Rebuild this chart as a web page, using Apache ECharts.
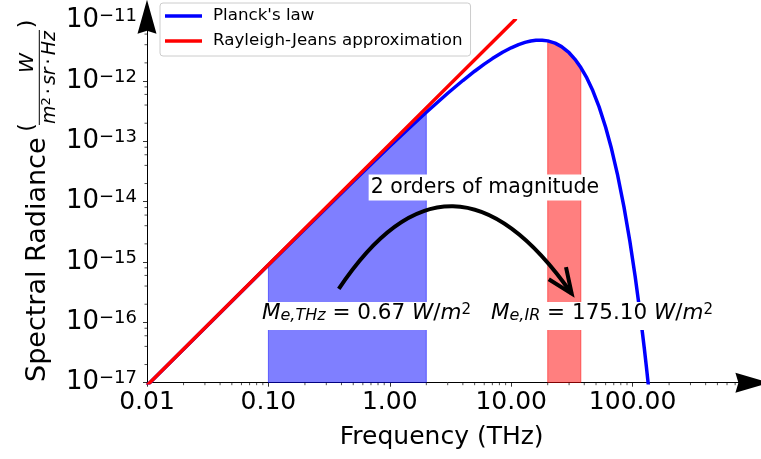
<!DOCTYPE html>
<html>
<head>
<meta charset="utf-8">
<script src="https://cdn.jsdelivr.net/npm/echarts@6/dist/echarts.min.js"></script>
<style>
  html, body { margin: 0; padding: 0; background: #ffffff; }
  #chart { width: 761px; height: 459px; }
</style>
</head>
<body>
<div id="chart"></div>
<script>
const FONT = 'DejaVu Sans';

// Black-body spectral radiance (W / (m²·sr·Hz)) against frequency (THz)
const FREQ_THZ = [0.01, 0.02, 0.05, 0.1, 0.2, 0.5, 1, 1.5, 2, 3,
  4, 5, 6, 7, 8.5, 10, 11.5, 13, 14.5, 16,
  18, 20, 23, 26, 30, 34, 37.5, 42, 47, 53,
  60, 67, 75, 85, 95, 105, 115, 125, 130, 135];
const PLANCK_RADIANCE = [8.995e-18, 3.595e-17, 2.241e-16, 8.928e-16, 3.542e-15, 2.160e-14, 8.285e-14, 1.787e-13, 3.043e-13, 6.274e-13,
  1.020e-12, 1.453e-12, 1.905e-12, 2.355e-12, 2.994e-12, 3.558e-12, 4.021e-12, 4.372e-12, 4.610e-12, 4.738e-12,
  4.758e-12, 4.632e-12, 4.245e-12, 3.717e-12, 2.945e-12, 2.219e-12, 1.675e-12, 1.125e-12, 6.946e-13, 3.727e-13,
  1.718e-13, 7.599e-14, 2.875e-14, 8.134e-15, 2.207e-15, 5.793e-16, 1.479e-16, 3.693e-17, 1.831e-17, 9.042e-18];

// Rayleigh-Jeans approximation (straight line on log-log axes)
const RJ_FREQ_THZ = [0.01, 0.1, 1, 10, 11];
const RJ_RADIANCE = [9.002e-18, 9.002e-16, 9.002e-14, 9.002e-12, 1.089e-11];

// integration bands (THz)
const THZ_BAND = [0.1, 2];
const IR_BAND = [20, 37.5];

// axis ranges and minor-tick multiples
const X_RANGE = [0.01, 900];
const Y_RANGE = [1e-17, 1e-11];
const X_MINOR_SUBS = [2, 3, 4, 5, 6, 7, 8, 9];
const Y_MINOR_SUBS = [2, 4, 6, 8];

const PLANCK_NAME = "Planck's law";
const RJ_NAME = 'Rayleigh-Jeans approximation';
const X_TITLE = 'Frequency (THz)';
const Y_TITLE = 'Spectral Radiance';
const NOTE_TEXT = '2 orders of magnitude';
const THZ_VALUE = '0.67';
const IR_VALUE = '175.10';

// annotation anchors in data units [THz, radiance]
const NOTE_AT = [6.08, 1.72e-14];
const THZ_LABEL_AT = [0.643, 1.28e-16];
const IR_LABEL_AT = [56, 1.28e-16];
const ARROW_FROM = [0.38, 3.6e-16];
const ARROW_TO = [31.5, 3.0e-16];
const ARROW_RAD = 0.73;

const chart = echarts.init(document.getElementById('chart'), null, { renderer: 'canvas' });

function bandPoints(band) {
  const pts = [];
  FREQ_THZ.forEach((f, i) => {
    if (f >= band[0] && f <= band[1]) pts.push([f, PLANCK_RADIANCE[i]]);
  });
  return pts;
}

function bandSeries(band, color) {
  const pts = bandPoints(band);
  return {
    type: 'custom', silent: true, z: 1, clip: true,
    data: [pts[0]],
    renderItem: (params, api) => {
      const poly = pts.map(p => api.coord(p));
      poly.push(api.coord([band[1], Y_RANGE[0]]), api.coord([band[0], Y_RANGE[0]]));
      return { type: 'polygon', shape: { points: poly }, style: { fill: color, stroke: color, lineWidth: 1 } };
    }
  };
}

const xMinor = [];
for (let e = Math.round(Math.log10(X_RANGE[0])); e < Math.log10(X_RANGE[1]); e++) {
  X_MINOR_SUBS.forEach(s => {
    const v = s * Math.pow(10, e);
    if (v > X_RANGE[0] && v <= X_RANGE[1]) xMinor.push([v, Y_RANGE[0]]);
  });
}
const yMinor = [];
for (let e = Math.round(Math.log10(Y_RANGE[0])); e < Math.round(Math.log10(Y_RANGE[1])); e++) {
  Y_MINOR_SUBS.forEach(s => yMinor.push([X_RANGE[0], s * Math.pow(10, e)]));
}

function tickSeries(data, horizontal) {
  return {
    type: 'custom', silent: true, clip: false, z: 5,
    data: data,
    renderItem: (params, api) => {
      const c = api.coord([api.value(0), api.value(1)]);
      const shape = horizontal
        ? { x1: c[0], y1: c[1], x2: c[0] - 2.5, y2: c[1] }
        : { x1: c[0], y1: c[1], x2: c[0], y2: c[1] + 2.5 };
      return { type: 'line', shape: shape, style: { stroke: '#000', lineWidth: 0.7 } };
    }
  };
}

const LEGEND_ICON = 'rect';

const option = {
  animation: false,
  backgroundColor: '#ffffff',
  grid: { left: 147, right: 12.6, top: 20.7, bottom: 76.3, containLabel: false, outerBoundsMode: 'none' },
  legend: {
    data: [{ name: PLANCK_NAME, icon: LEGEND_ICON }, { name: RJ_NAME, icon: LEGEND_ICON }],
    selectedMode: false,
    orient: 'vertical',
    left: 160, top: 3,
    padding: [3, 8, 5, 5],
    itemGap: 5, itemWidth: 37, itemHeight: 3.5,
    backgroundColor: 'rgba(255,255,255,0.8)',
    borderColor: '#cccccc', borderWidth: 1, borderRadius: 3,
    textStyle: { fontFamily: FONT, fontSize: 16.7, lineHeight: 20, color: '#000', padding: [0, 0, 0, 6] }
  },
  xAxis: {
    type: 'log', logBase: 10, min: X_RANGE[0], max: X_RANGE[1], splitNumber: 5,
    name: X_TITLE, nameLocation: 'middle', nameGap: 42,
    nameTextStyle: { fontFamily: FONT, fontSize: 25, color: '#000', padding: [0, 12, 0, 0] },
    axisLine: { show: true, onZero: false, lineStyle: { color: '#000', width: 1 } },
    axisTick: { show: true, inside: false, length: 4, lineStyle: { color: '#000', width: 0.8 } },
    axisLabel: {
      show: true, margin: 7, fontFamily: FONT, fontSize: 25, color: '#000',
      showMaxLabel: false, hideOverlap: false,
      formatter: v => Number(v).toFixed(2)
    },
    splitLine: { show: false }
  },
  yAxis: {
    type: 'log', logBase: 10, min: Y_RANGE[0], max: Y_RANGE[1], splitNumber: 6,
    axisLine: { show: true, onZero: false, lineStyle: { color: '#000', width: 1 } },
    axisTick: { show: true, inside: false, length: 4, lineStyle: { color: '#000', width: 0.8 } },
    axisLabel: {
      show: true, margin: 10, hideOverlap: false,
      formatter: v => '{b|10}{s|\u2212' + (-Math.round(Math.log10(v))) + '}',
      rich: {
        b: { fontFamily: FONT, fontSize: 26, lineHeight: 26, color: '#000', verticalAlign: 'middle' },
        s: { fontFamily: FONT, fontSize: 18, lineHeight: 11, color: '#000', verticalAlign: 'top' }
      }
    },
    splitLine: { show: false }
  },
  series: [
    bandSeries(THZ_BAND, 'rgba(0,0,255,0.5)'),
    bandSeries(IR_BAND, 'rgba(255,0,0,0.5)'),
    {
      name: PLANCK_NAME, type: 'line', z: 3,
      data: FREQ_THZ.map((f, i) => [f, PLANCK_RADIANCE[i]]),
      showSymbol: false, symbol: 'none', smooth: false, clip: true,
      lineStyle: { color: '#0000ff', width: 3.5 }, itemStyle: { color: '#0000ff' }
    },
    {
      name: RJ_NAME, type: 'line', z: 4,
      data: RJ_FREQ_THZ.map((f, i) => [f, RJ_RADIANCE[i]]),
      showSymbol: false, symbol: 'none', smooth: false, clip: true,
      lineStyle: { color: '#ff0000', width: 3.5 }, itemStyle: { color: '#ff0000' }
    },
    tickSeries(xMinor, false),
    tickSeries(yMinor, true)
  ]
};

chart.setOption(option);

const px = v => chart.convertToPixel({ gridIndex: 0 }, v);

const MATH_RICH = {
  i: { fontFamily: FONT, fontStyle: 'italic', fontSize: 21.5, lineHeight: 21, fill: '#000', verticalAlign: 'middle' },
  n: { fontFamily: FONT, fontSize: 21.5, lineHeight: 21, fill: '#000', verticalAlign: 'middle' },
  sub: { fontFamily: FONT, fontStyle: 'italic', fontSize: 16, lineHeight: 3, fill: '#000', verticalAlign: 'bottom' },
  sup: { fontFamily: FONT, fontSize: 15, lineHeight: 12, fill: '#000', verticalAlign: 'top' }
};

function mathLabel(at, sub, value) {
  const p = px(at);
  return {
    type: 'text', x: p[0], y: p[1], z: 60, silent: true,
    style: {
      text: '{i|M}{sub|' + sub + '}{n| = ' + value + ' }{i|W}{n|/}{i|m}{sup|2}',
      rich: MATH_RICH, align: 'center', verticalAlign: 'middle',
      backgroundColor: '#ffffff', padding: [1, 4, 6, 4]
    }
  };
}

const elements = [];

// axis arrowheads
const xEnd = px([X_RANGE[1], Y_RANGE[0]]);
const yEnd = px([X_RANGE[0], Y_RANGE[1]]);
const AL = 34, AN = 3, AT = 21;
elements.push({
  type: 'polygon', z: 60, silent: true,
  shape: { points: [[xEnd[0] + AT, xEnd[1]], [xEnd[0] + AT - AL, xEnd[1] - 10], [xEnd[0] + AT - AL + AN, xEnd[1]], [xEnd[0] + AT - AL, xEnd[1] + 10]] },
  style: { fill: '#000' }
});
elements.push({
  type: 'polygon', z: 60, silent: true,
  shape: { points: [[yEnd[0], yEnd[1] - AT], [yEnd[0] - 9.5, yEnd[1] - AT + AL], [yEnd[0], yEnd[1] - AT + AL - AN], [yEnd[0] + 9.5, yEnd[1] - AT + AL]] },
  style: { fill: '#000' }
});

// curved arrow between the two bands
const s = px(ARROW_FROM), e = px(ARROW_TO);
const mx = (s[0] + e[0]) / 2, my = (s[1] + e[1]) / 2;
const cx = mx + ARROW_RAD * (e[1] - s[1]) - 8, cy = my - ARROW_RAD * (e[0] - s[0]);
elements.push({
  type: 'bezierCurve', z: 50, silent: true,
  shape: { x1: s[0], y1: s[1], x2: e[0], y2: e[1], cpx1: cx, cpy1: cy },
  style: { stroke: '#000', lineWidth: 4, fill: null }
});
const ang = Math.atan2(e[1] - cy, e[0] - cx);
const HEAD = 27, SPREAD = 0.4;
const arm = a => [e[0] - HEAD * Math.cos(ang + a), e[1] - HEAD * Math.sin(ang + a)];
elements.push({
  type: 'polyline', z: 50, silent: true,
  shape: { points: [arm(SPREAD), [e[0], e[1]], arm(-SPREAD)] },
  style: { stroke: '#000', lineWidth: 4, fill: null }
});

// text annotations
const note = px(NOTE_AT);
elements.push({
  type: 'text', x: note[0], y: note[1], z: 60, silent: true,
  style: {
    text: NOTE_TEXT, fontFamily: FONT, fontSize: 20.5, fill: '#000',
    align: 'center', verticalAlign: 'middle', backgroundColor: '#ffffff', padding: [3, 2, 2, 2]
  }
});
elements.push(mathLabel(THZ_LABEL_AT, 'e,THz', THZ_VALUE));
elements.push(mathLabel(IR_LABEL_AT, 'e,IR', IR_VALUE));

// y-axis title with the unit fraction
const R = Math.PI / 2;
elements.push({
  type: 'text', x: 38, y: 382, rotation: R, z: 50, silent: true,
  style: { text: Y_TITLE, fontFamily: FONT, fontSize: 27, fill: '#000', align: 'left', verticalAlign: 'middle' }
});
elements.push({
  type: 'text', x: 27, y: 127.5, rotation: R, z: 50, silent: true,
  style: { text: '(', fontFamily: FONT, fontSize: 22, fill: '#000', align: 'center', verticalAlign: 'middle' }
});
elements.push({
  type: 'text', x: 27, y: 24, rotation: R, z: 50, silent: true,
  style: { text: ')', fontFamily: FONT, fontSize: 22, fill: '#000', align: 'center', verticalAlign: 'middle' }
});
elements.push({
  type: 'text', x: 28, y: 63, rotation: R, z: 50, silent: true,
  style: { text: 'W', fontFamily: FONT, fontStyle: 'italic', fontSize: 20, fill: '#000', align: 'center', verticalAlign: 'middle' }
});
elements.push({
  type: 'line', z: 50, silent: true,
  shape: { x1: 39.3, y1: 30, x2: 39.3, y2: 125 },
  style: { stroke: '#000', lineWidth: 1 }
});
elements.push({
  type: 'text', x: 50, y: 77.5, rotation: R, z: 50, silent: true,
  style: {
    text: '{i|m}{s|2}{d|\u00b7}{i|sr}{d|\u00b7}{i|Hz}',
    align: 'center', verticalAlign: 'middle',
    rich: {
      i: { fontFamily: FONT, fontStyle: 'italic', fontSize: 19, lineHeight: 19, fill: '#000', verticalAlign: 'middle' },
      s: { fontFamily: FONT, fontSize: 13, lineHeight: 10, fill: '#000', verticalAlign: 'top' },
      d: { fontFamily: FONT, fontSize: 19, lineHeight: 19, fill: '#000', verticalAlign: 'middle', padding: [0, 3, 0, 3] }
    }
  }
});

chart.setOption({ graphic: { elements: elements } });
</script>
</body>
</html>
